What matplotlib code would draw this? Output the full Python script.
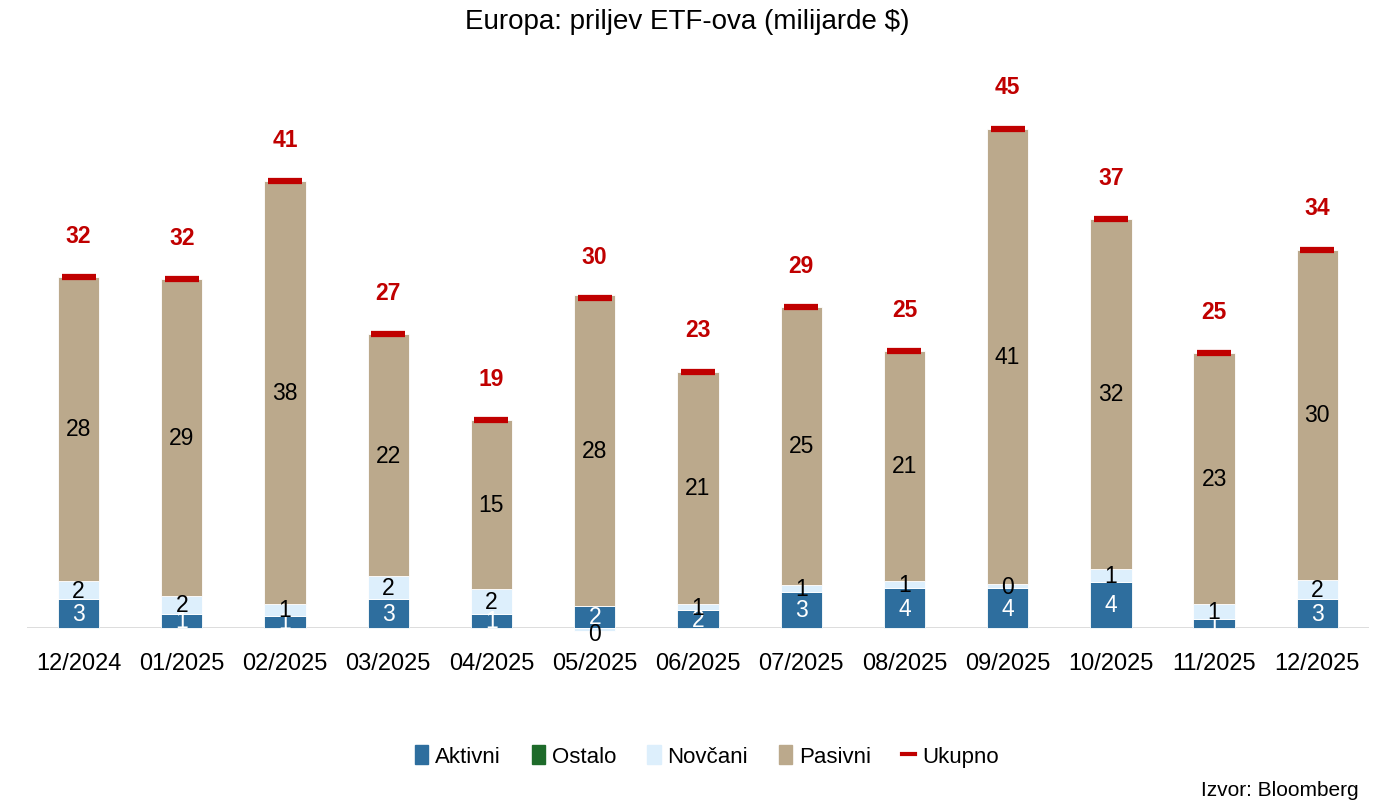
import numpy as np
import matplotlib.pyplot as plt
from matplotlib.patches import Patch
from matplotlib.lines import Line2D

# === DATA (milijarde $) ===
months = ['12/2024', '01/2025', '02/2025', '03/2025', '04/2025', '05/2025', '06/2025',
          '07/2025', '08/2025', '09/2025', '10/2025', '11/2025', '12/2025']
aktivni = [2.6, 1.3, 1.1, 2.6, 1.3, 2.0, 1.6, 3.3, 3.6, 3.6, 4.2, 0.8, 2.6]
ostalo = [0.0] * 13
novcani = [1.7, 1.6, 1.1, 2.1, 2.2, -0.3, 0.6, 0.6, 0.7, 0.4, 1.2, 1.4, 1.8]
pasivni = [27.6, 28.8, 38.4, 22.0, 15.4, 28.3, 21.1, 25.3, 20.9, 41.4, 31.8, 22.8, 30.0]
ukupno = [a + o + n + p for a, o, n, p in zip(aktivni, ostalo, novcani, pasivni)]

c_akt = '#2E6E9E'
c_ost = '#1E6B2A'
c_nov = '#DDEFFC'
c_pas = '#BBA98C'
c_uk = '#C00000'

FONT = ['Liberation Sans Narrow', 'Liberation Sans', 'DejaVu Sans']
plt.rcParams['font.family'] = FONT


def lab(v):
    s = f"{abs(v):.0f}" if round(abs(v)) == 0 else f"{v:.0f}"
    return s


fig = plt.figure(figsize=(13.75, 8.03), dpi=100)
ax = fig.add_axes([0.0196, 0.2167, 0.976, 0.685])

x = np.arange(len(months))
w = 0.4

pos_base = np.zeros(len(months))
neg_base = np.zeros(len(months))
series = [(aktivni, c_akt, 'white'), (ostalo, c_ost, None),
          (novcani, c_nov, 'black'), (pasivni, c_pas, 'black')]
for vals, col, tcol in series:
    vals = np.array(vals)
    bottoms = np.where(vals >= 0, pos_base, neg_base)
    ax.bar(x, vals, w, bottom=bottoms, color=col, edgecolor='white',
           linewidth=0.6, clip_on=False, zorder=2)
    if tcol is not None:
        for i, v in enumerate(vals):
            yc = bottoms[i] + v / 2
            if v < 0:
                yc = bottoms[i] + v - 0.2
            ax.text(x[i], yc, lab(v), ha='center', va='center', color=tcol,
                    fontsize=16.5, zorder=4, clip_on=False)
    pos_base = pos_base + np.where(vals >= 0, vals, 0)
    neg_base = neg_base + np.where(vals < 0, vals, 0)

# Ukupno markers + labels
ax.plot(x, ukupno, linestyle='none', marker='_', markersize=24,
        markeredgewidth=4.5, color=c_uk, zorder=5, clip_on=False)
for i, t in enumerate(ukupno):
    ax.annotate(f"{t:.0f}", (x[i], t), xytext=(0, 30), textcoords='offset points',
                ha='center', va='center', color=c_uk, fontsize=16.5,
                fontweight='bold')

ax.axhline(0, color='#D9D9D9', linewidth=2, zorder=1)
ax.set_xlim(-0.5, len(months) - 0.5)
ax.set_ylim(0, 50)
ax.set_xticks(x)
ax.set_xticklabels(months, fontsize=17)
ax.tick_params(axis='x', length=0, pad=17)
ax.set_yticks([])
for s in ax.spines.values():
    s.set_visible(False)

fig.text(0.5, 0.972, 'Europa: priljev ETF-ova (milijarde $)', ha='center',
         va='center', fontsize=20, family=['Liberation Sans', 'DejaVu Sans'])

handles = [Patch(color=c_akt, label='Aktivni'),
           Patch(color=c_ost, label='Ostalo'),
           Patch(color=c_nov, label='Novčani'),
           Patch(color=c_pas, label='Pasivni'),
           Line2D([], [], color=c_uk, linewidth=3, label='Ukupno')]
fig.legend(handles=handles, loc='center', bbox_to_anchor=(0.514, 0.057),
           ncol=5, frameon=False, fontsize=16, handlelength=0.6,
           handleheight=0.9, handletextpad=0.3, columnspacing=1.4)

fig.text(0.988, 0.016, 'Izvor: Bloomberg', ha='right', va='center', fontsize=15,
         family=['Liberation Sans', 'DejaVu Sans'])

fig.savefig('out.png', dpi=100)
